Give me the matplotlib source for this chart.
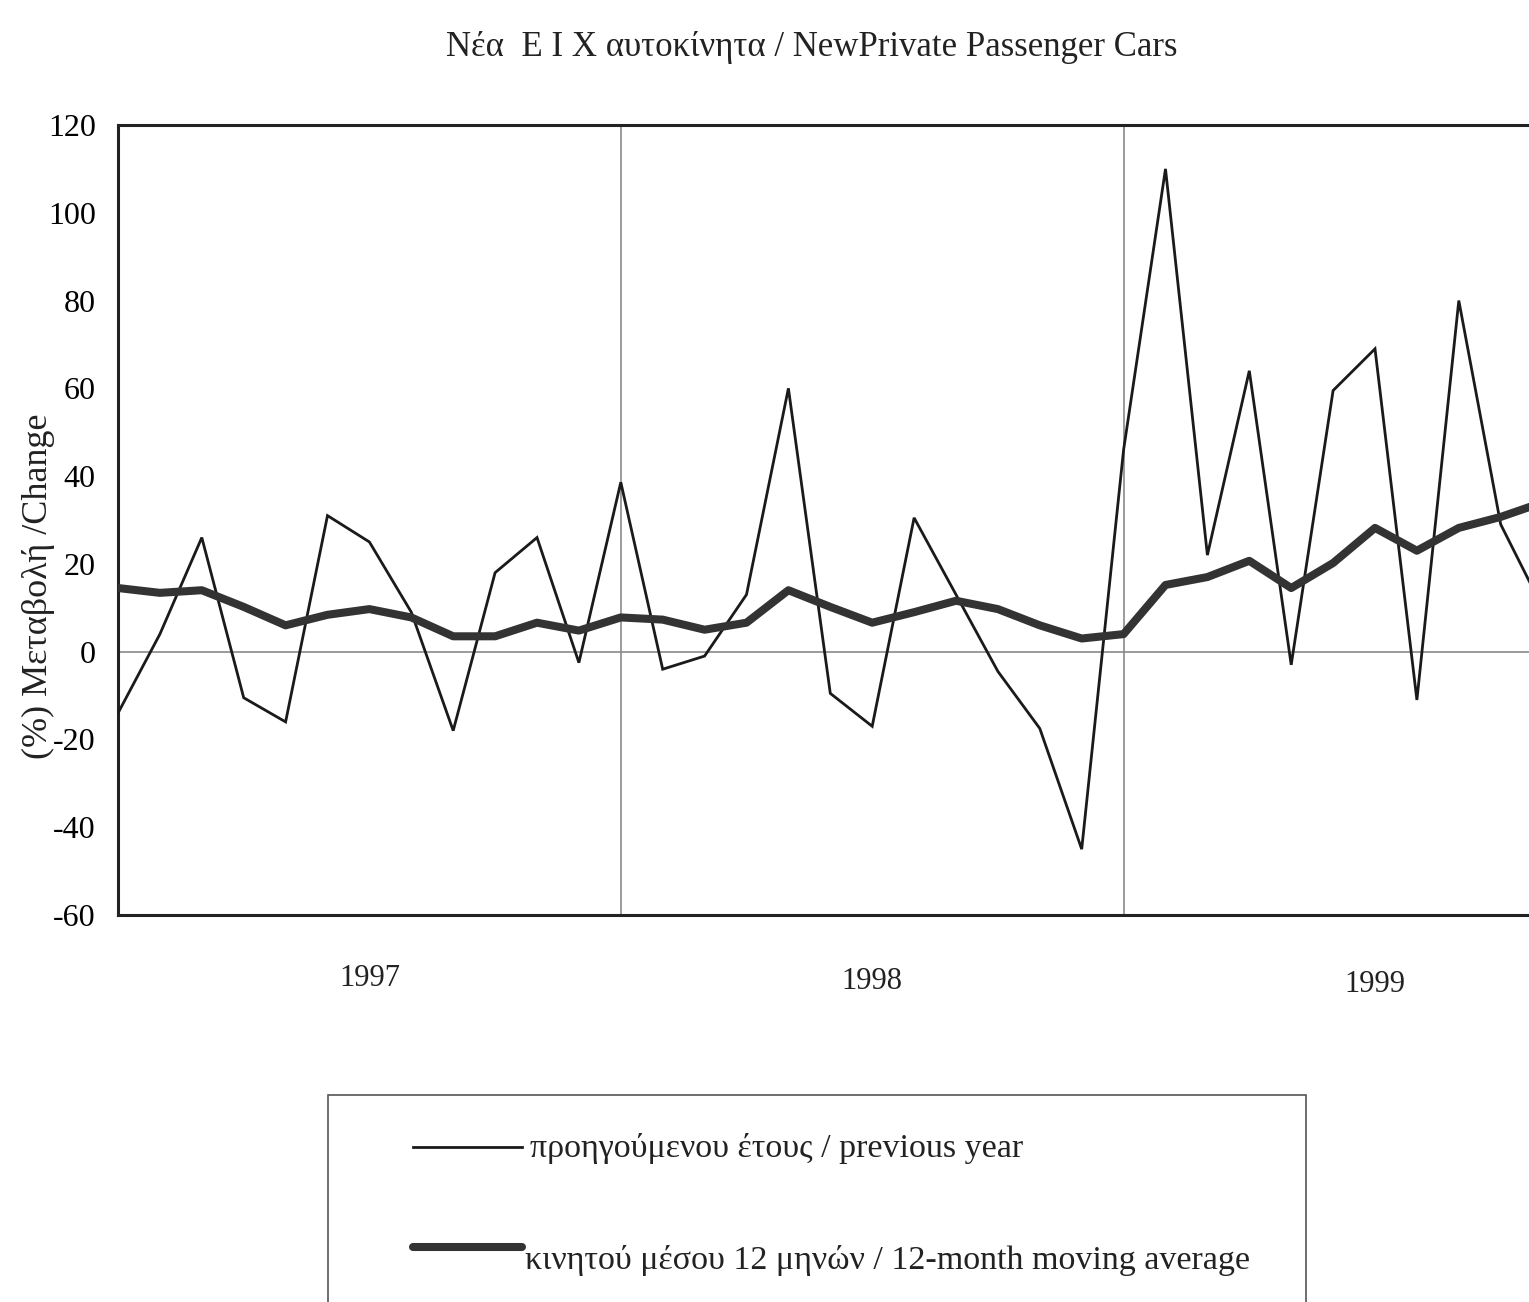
import matplotlib
matplotlib.use("Agg")
import matplotlib.pyplot as plt
from matplotlib.patches import Rectangle
from matplotlib.lines import Line2D
import numpy as np

# Monthly data, Jan 1997 onwards (% change)
prev_year = [-14, 4, 26, -10.5, -16, 31, 25, 9, -18, 18, 26, -2.5,
             38.6, -4, -1, 13, 60, -9.5, -17, 30.5, 13, -4.5, -17.5, -45,
             46, 110, 22, 64, -3, 59.5, 69, -11, 80, 29, 10]
moving_avg = [14.5, 13.4, 14, 10.2, 6, 8.4, 9.7, 7.8, 3.5, 3.5, 6.6, 4.8,
              7.8, 7.3, 5, 6.6, 14, 10.2, 6.6, 9, 11.6, 9.7, 6, 3,
              4, 15.2, 17, 20.7, 14.5, 20.2, 28.2, 23, 28.2, 30.7, 34]
years = ["1997", "1998", "1999"]
y_ticks = [120, 100, 80, 60, 40, 20, 0, -20, -40, -60]

title = "Νέα  Ε Ι Χ αυτοκίνητα / NewPrivate Passenger Cars"
ylabel = "(%) Μεταβολή /Change"
leg_labels = ["προηγούμενου έτους / previous year",
              "κινητού μέσου 12 μηνών / 12-month moving average"]

plt.rcParams['font.family'] = ['Liberation Serif', 'DejaVu Serif']

W, H = 1529, 1302
fig = plt.figure(figsize=(W / 100, H / 100), dpi=100)
fig.patch.set_facecolor("white")

# axes: left 118px, top 125px, bottom 915px, extends beyond right edge
left = 118 / W
bottom = 1 - 915 / H
height = (915 - 125) / H
n_span = 35.5
width = n_span * 41.9 / W
ax = fig.add_axes([left, bottom, width, height])

x = np.arange(len(prev_year))
ax.plot(x, prev_year, color="#1a1a1a", lw=2.0, solid_joinstyle="miter", zorder=3)
ax.plot(x, moving_avg, color="#333333", lw=5.8, solid_joinstyle="round",
        solid_capstyle="round", zorder=4)

ax.set_xlim(0, n_span)
ax.set_ylim(-60, 120)

# grid: year separators and zero line
for xv in (12, 24):
    ax.axvline(xv, color="#8a8a8a", lw=1.2, zorder=1)
ax.axhline(0, color="#8a8a8a", lw=1.2, zorder=1)

ax.set_yticks(y_ticks)
ax.set_yticklabels([str(v) for v in y_ticks], fontsize=23)
ax.tick_params(axis="y", length=0, pad=16)
ax.set_xticks([])

for s in ("left", "top", "bottom"):
    ax.spines[s].set_linewidth(2.2)
    ax.spines[s].set_color("#222222")
ax.spines["right"].set_visible(False)

for i, yr in enumerate(years):
    ax.text(6 + 12 * i, -0.08 - 0.004 * i, yr, transform=ax.get_xaxis_transform(),
            ha="center", va="center", fontsize=22, color="#222222")

fig.text(38 / W, 1 - 586 / H, ylabel, rotation=90, ha="center", va="center",
         fontsize=26, color="#222222")

fig.text(812 / W, 1 - 48 / H, title, ha="center", va="center",
         fontsize=25, color="#222222")

# legend box (extends below figure edge)
box = Rectangle((328 / W, -0.05), (1306 - 328) / W, (1 - 1095 / H) + 0.05,
                transform=fig.transFigure, fill=False, edgecolor="#555555",
                lw=1.2, clip_on=False)
fig.add_artist(box)
fig.add_artist(Line2D([413 / W, 522 / W], [1 - 1147 / H, 1 - 1147 / H],
                      transform=fig.transFigure, color="#1a1a1a", lw=2.0))
fig.add_artist(Line2D([413 / W, 522 / W], [1 - 1247 / H, 1 - 1247 / H],
                      transform=fig.transFigure, color="#333333", lw=5.8,
                      solid_capstyle="round"))
fig.text(530 / W, 1 - 1148 / H, leg_labels[0], ha="left", va="center",
         fontsize=24.5, color="#222222")
fig.text(525 / W, 1 - 1260 / H, leg_labels[1], ha="left", va="center",
         fontsize=24.5, color="#222222")

fig.savefig("out.png", dpi=100)
